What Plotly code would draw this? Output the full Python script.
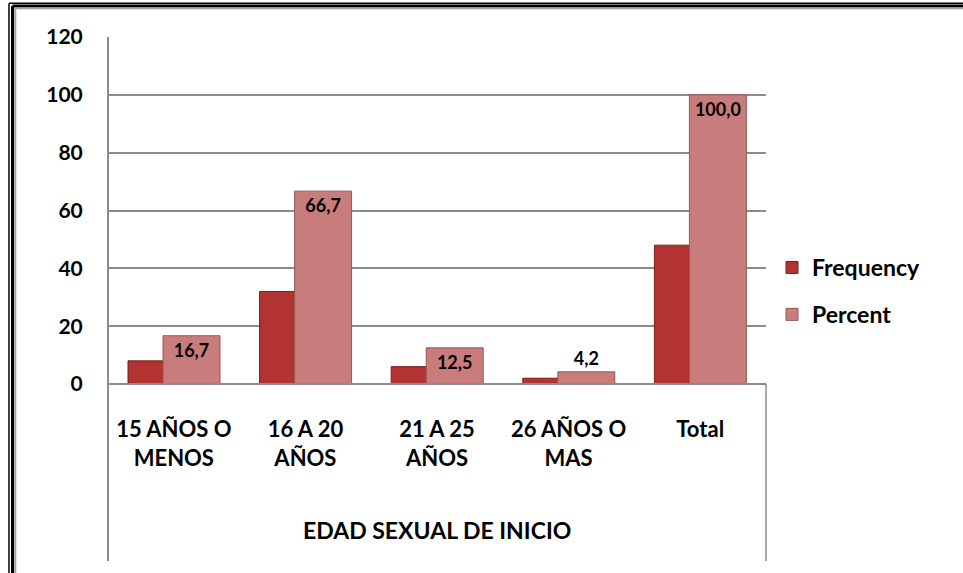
import plotly.graph_objects as go

# data
categories = ["15 AÑOS O<br>MENOS", "16 A 20<br>AÑOS", "21 A 25<br>AÑOS", "26 AÑOS O<br>MAS", "Total"]
frequency = [8, 32, 6, 2, 48]
percent = [16.7, 66.7, 12.5, 4.2, 100.0]
percent_labels = ["16,7", "66,7", "12,5", "4,2", "100,0"]

FONT = "Lato"
FREQ_COLOR = "#B33232"
FREQ_LINE = "#7A1C1C"
PCT_COLOR = "#C97C7C"
PCT_LINE = "#975757"
GRID = "#8C8C8C"

# Plot area in pixels: x 108..766, y 37..384
L, R, T, B = 108, 766, 37, 384
W, H = 963, 573


def px_x(x):
    return (x - L) / (R - L)


def px_y(y):
    return (B - y) / (B - T)


fig = go.Figure()

fig.add_trace(go.Bar(
    x=categories, y=frequency, name="Frequency",
    width=0.433, offset=-0.348,
    marker=dict(color=FREQ_COLOR, line=dict(color=FREQ_LINE, width=1)),
    legendgroup="f",
))

fig.add_trace(go.Bar(
    x=categories, y=percent, name="Percent",
    width=0.433, offset=-0.082,
    marker=dict(color=PCT_COLOR, line=dict(color=PCT_LINE, width=1)),
    text=percent_labels,
    textposition=["inside", "inside", "inside", "outside", "inside"],
    insidetextanchor="end",
    constraintext="none",
    textfont=dict(family=FONT, size=18, color="black", weight="bold"),
    cliponaxis=False,
    legendgroup="p",
))

shapes = []
# category box below the plot area
shapes.append(dict(type="line", xref="paper", yref="paper", x0=0, x1=0,
                   y0=px_y(561), y1=1, line=dict(color=GRID, width=2)))
shapes.append(dict(type="line", xref="paper", yref="paper", x0=1, x1=1,
                   y0=px_y(561), y1=0, line=dict(color=GRID, width=1.5)))
shapes.append(dict(type="line", xref="paper", yref="paper", x0=0, x1=1,
                   y0=0, y1=0, line=dict(color=GRID, width=2)))

# double frame (left and top edges)
for pos, top, col, wid in [(9, 3.3, "black", 1.5), (12.5, 6, "black", 3), (15.3, 8.2, "#A0A0A0", 2)]:
    shapes.append(dict(type="line", xref="paper", yref="paper",
                       x0=px_x(pos), x1=px_x(pos), y0=px_y(H + 5), y1=px_y(top),
                       line=dict(color=col, width=wid)))
    shapes.append(dict(type="line", xref="paper", yref="paper",
                       x0=px_x(pos), x1=px_x(W + 5), y0=px_y(top), y1=px_y(top),
                       line=dict(color=col, width=wid)))

fig.update_layout(
    width=W, height=H,
    margin=dict(l=L, r=W - R, t=T, b=H - B),
    paper_bgcolor="white",
    plot_bgcolor="white",
    barmode="overlay",
    showlegend=True,
    legend=dict(
        x=px_x(772), y=px_y(291), xanchor="left", yanchor="middle",
        font=dict(family=FONT, size=23, color="black", weight="bold"),
        traceorder="grouped", tracegroupgap=14,
        bgcolor="rgba(0,0,0,0)",
    ),
    shapes=shapes,
    annotations=[dict(
        text="EDAD SEXUAL DE INICIO", xref="paper", yref="paper",
        x=0.5, y=px_y(530), showarrow=False, xanchor="center", yanchor="middle",
        font=dict(family=FONT, size=23, color="black", weight="bold"),
    )],
)

fig.update_xaxes(
    showgrid=False, showline=False, zeroline=False,
    ticks="outside", ticklen=26, tickcolor="rgba(0,0,0,0)",
    tickfont=dict(family=FONT, size=22, color="black", weight="bold"),
)
fig.update_yaxes(
    range=[0, 120], dtick=20,
    showgrid=True, gridcolor=GRID, gridwidth=1.5,
    zeroline=False, showline=False,
    ticks="outside", ticklen=20, tickcolor="rgba(0,0,0,0)",
    tickfont=dict(family=FONT, size=21, color="black", weight="bold"),
)

# drop the default page margin so the figure sits at the window corner
fig.write_html("out.html", config={"displayModeBar": False},
               post_script="document.body.style.margin='0';")
